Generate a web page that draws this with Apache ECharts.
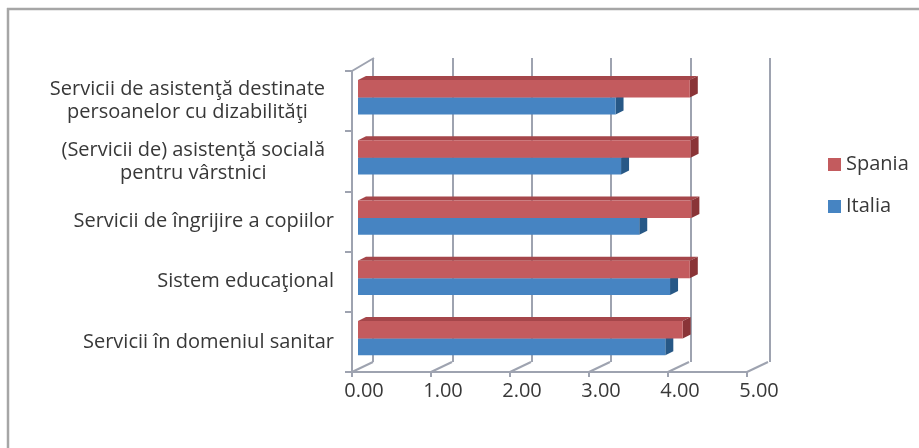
<!DOCTYPE html>
<html><head><meta charset="utf-8">
<script src="https://cdn.jsdelivr.net/npm/echarts@6/dist/echarts.min.js"></script>
<style>html,body{margin:0;padding:0;background:#fff}#c{width:919px;height:448px}</style>
</head><body><div id="c"></div>
<script>
// Categories listed bottom to top (as in the chart)
const categories = [
  'Servicii în domeniul sanitar',
  'Sistem educaţional',
  'Servicii de îngrijire a copiilor',
  '(Servicii de) asistenţă socială\npentru vârstnici',
  'Servicii de asistenţă destinate\npersoanelor cu dizabilităţi'
];
const spania = [4.11, 4.20, 4.22, 4.21, 4.20];
const italia = [3.89, 3.95, 3.56, 3.33, 3.26];
const xTickValues = [0, 1, 2, 3, 4, 5];
const seriesNames = ['Spania', 'Italia'];

const FONT = 'Open Sans';
const TXT = '#383838';
const LINE = '#9ea3b0';
const COLORS = {
  Spania: { front: '#C35B5E', top: '#A5464A', side: '#8A3437' },
  Italia: { front: '#4684C2', top: '#3A6FA6', side: '#275886' }
};
const DEPTH = [21, -10];      // front plane -> back wall
const BAR_OFF = 6;            // bar front face offset (x)
const BAR_D = [8, -4];        // bar depth
// bar vertical extents relative to band centre
const BAR_Y = { Spania: [-21, -3.5], Italia: [-3.5, 13.3] };

const chart = echarts.init(document.getElementById('c'));

function barRenderer(name) {
  const c = COLORS[name];
  return function (params, api) {
    const i = api.value(0), v = api.value(1);
    const base = api.coord([0, i]);
    const end = api.coord([v, i]);
    const cy = base[1];
    const x0 = base[0] + BAR_OFF, x1 = end[0] + BAR_OFF;
    const top = cy + BAR_Y[name][0], bot = cy + BAR_Y[name][1];
    const dx = BAR_D[0], dy = BAR_D[1];
    return {
      type: 'group',
      children: [
        { type: 'polygon', shape: { points: [[x0, top], [x1, top], [x1 + dx, top + dy], [x0 + dx, top + dy]] },
          style: { fill: c.top } },
        { type: 'polygon', shape: { points: [[x1, top], [x1 + dx, top + dy], [x1 + dx, bot + dy], [x1, bot]] },
          style: { fill: c.side } },
        { type: 'rect', shape: { x: x0, y: top, width: x1 - x0, height: bot - top },
          style: { fill: c.front } }
      ]
    };
  };
}

function frameRenderer(params, api) {
  const v = api.value(0);
  const p = api.coord([v, 0]);
  const children = [
    { type: 'line', shape: { x1: p[0], y1: p[1], x2: p[0] + DEPTH[0], y2: p[1] + DEPTH[1] },
      style: { stroke: LINE, lineWidth: 2 } }
  ];
  if (v === 0) {
    const q = api.coord([0, 1]);
    children.push({ type: 'line', shape: { x1: q[0], y1: q[1], x2: q[0] + 22, y2: q[1] - 13 },
      style: { stroke: LINE, lineWidth: 2 } });
  }
  return { type: 'group', children };
}

const labelRich = {
  c: { align: 'center', fontFamily: FONT, fontSize: 20, lineHeight: 23, color: TXT, padding: [0, 9, 0, 0] }
};

chart.setOption({
  animation: false,
  backgroundColor: '#ffffff',
  graphic: [
    { type: 'line', shape: { x1: 7, y1: 9, x2: 919, y2: 9 }, style: { stroke: '#a6a6a6', lineWidth: 2.5 } },
    { type: 'line', shape: { x1: 8, y1: 8, x2: 8, y2: 448 }, style: { stroke: '#a6a6a6', lineWidth: 2.5 } }
  ],
  legend: {
    data: seriesNames,
    orient: 'vertical',
    left: 828, top: 154.5,
    padding: 0,
    itemWidth: 13, itemHeight: 13, itemGap: 22,
    icon: 'rect',
    selectedMode: false,
    textStyle: { fontFamily: FONT, fontSize: 20, lineHeight: 20, color: TXT }
  },
  grid: [
    { left: 352, top: 71, width: 395, height: 301 },
    { left: 373, top: 58, width: 397, height: 304 }
  ],
  xAxis: [
    { gridIndex: 0, type: 'value', min: 0, max: 5, interval: 1,
      axisLine: { show: true, lineStyle: { color: LINE, width: 2 } },
      axisTick: { show: true, length: 5, lineStyle: { color: LINE, width: 2 } },
      splitLine: { show: false },
      axisLabel: { formatter: v => v.toFixed(2), margin: 9, fontFamily: FONT, fontSize: 20, color: TXT,
                   padding: [0, 0, 0, 24] } },
    { gridIndex: 1, type: 'value', min: 0, max: 5, interval: 1,
      axisLine: { show: false }, axisTick: { show: false }, axisLabel: { show: false },
      splitLine: { show: true, lineStyle: { color: LINE, width: 2 } } }
  ],
  yAxis: [
    { gridIndex: 0, type: 'category', data: categories,
      axisLine: { show: true, lineStyle: { color: LINE, width: 2 } },
      axisTick: { show: true, length: 7, lineStyle: { color: LINE, width: 2 } },
      axisLabel: { margin: 18, fontFamily: FONT, fontSize: 20, color: TXT, lineHeight: 23,
        formatter: s => s.indexOf('\n') >= 0 ? s.split('\n').map(l => '{c|' + l + '}').join('\n') : s,
        rich: labelRich } },
    { gridIndex: 0, type: 'value', min: 0, max: 1, show: false },
    { gridIndex: 1, type: 'value', min: 0, max: 1, show: false }
  ],
  series: [
    { type: 'custom', name: 'frame', xAxisIndex: 0, yAxisIndex: 1, silent: true,
      data: xTickValues.map(v => [v]), encode: { x: 0 }, renderItem: frameRenderer, z: 1 },
    { type: 'custom', name: 'Italia', xAxisIndex: 0, yAxisIndex: 0,
      itemStyle: { color: COLORS.Italia.front },
      data: italia.map((v, i) => [i, v]), encode: { y: 0, x: 1 },
      renderItem: barRenderer('Italia'), z: 3 },
    { type: 'custom', name: 'Spania', xAxisIndex: 0, yAxisIndex: 0,
      itemStyle: { color: COLORS.Spania.front },
      data: spania.map((v, i) => [i, v]), encode: { y: 0, x: 1 },
      renderItem: barRenderer('Spania'), z: 4 }
  ]
});
</script></body></html>
